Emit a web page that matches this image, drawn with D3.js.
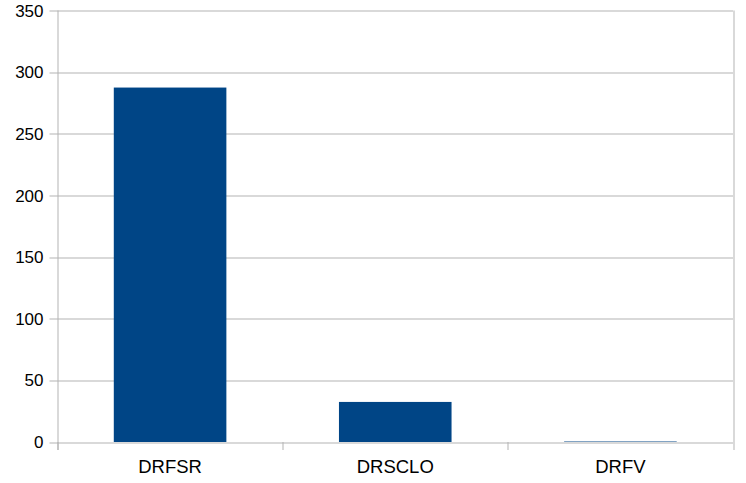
<!DOCTYPE html>
<html>
<head>
<meta charset="utf-8">
<script src="https://cdn.jsdelivr.net/npm/d3@7"></script>
<style>
  body { margin: 0; background: #fff; }
  text { font-family: "Liberation Sans", Arial, sans-serif; fill: #000; }
</style>
</head>
<body>
<svg id="chart" width="746" height="483"></svg>
<script>
var categories = ["DRFSR", "DRSCLO", "DRFV"];
var values = [287.5, 32.5, 0.4];
var yTicks = [0, 50, 100, 150, 200, 250, 300, 350];

var svg = d3.select("#chart");
var margin = {top: 10.5, right: 13, bottom: 41, left: 57.5};
var width = 746 - margin.left - margin.right,
    height = 483 - margin.top - margin.bottom;

var g = svg.append("g")
    .attr("transform", "translate(" + margin.left + "," + margin.top + ")");

var x = d3.scaleBand().domain(categories).range([0, width]).paddingInner(0.5).paddingOuter(0.25);
var y = d3.scaleLinear().domain([0, 350]).range([height, 0]);

// grid lines
g.selectAll("line.grid")
  .data(yTicks)
  .enter().append("line")
    .attr("class", "grid")
    .attr("x1", -8).attr("x2", width)
    .attr("y1", function(d) { return Math.round(y(d)) + 0.5; })
    .attr("y2", function(d) { return Math.round(y(d)) + 0.5; })
    .attr("stroke", "#b3b3b3").attr("stroke-width", 1);

// y labels
g.selectAll("text.ylab")
  .data(yTicks)
  .enter().append("text")
    .attr("class", "ylab")
    .attr("x", -14)
    .attr("y", function(d) { return y(d); })
    .attr("dy", "0.36em")
    .attr("text-anchor", "end")
    .style("font-size", "17px")
    .text(function(d) { return d; });

// bars
g.selectAll("rect.bar")
  .data(values)
  .enter().append("rect")
    .attr("class", "bar")
    .attr("x", function(d, i) { return x(categories[i]); })
    .attr("width", x.bandwidth())
    .attr("y", function(d) { return y(d); })
    .attr("height", function(d) { return height - y(d); })
    .attr("fill", "#004586");

// left axis line
g.append("line")
    .attr("x1", 0.5).attr("x2", 0.5)
    .attr("y1", 0).attr("y2", height + 8)
    .attr("stroke", "#b3b3b3");

// category separators
var step = width / categories.length;
g.selectAll("line.ctick")
  .data(d3.range(categories.length + 1))
  .enter().append("line")
    .attr("class", "ctick")
    .attr("x1", function(d) { return Math.round(d * step) + 0.5; })
    .attr("x2", function(d) { return Math.round(d * step) + 0.5; })
    .attr("y1", function(d) { return d === categories.length ? 0 : height; })
    .attr("y2", height + 8)
    .attr("stroke", "#b3b3b3");

// x labels
g.selectAll("text.xlab")
  .data(categories)
  .enter().append("text")
    .attr("class", "xlab")
    .attr("x", function(d) { return x(d) + x.bandwidth() / 2; })
    .attr("y", height + 31)
    .attr("text-anchor", "middle")
    .style("font-size", "18.5px")
    .text(function(d) { return d; });
</script>
</body>
</html>
